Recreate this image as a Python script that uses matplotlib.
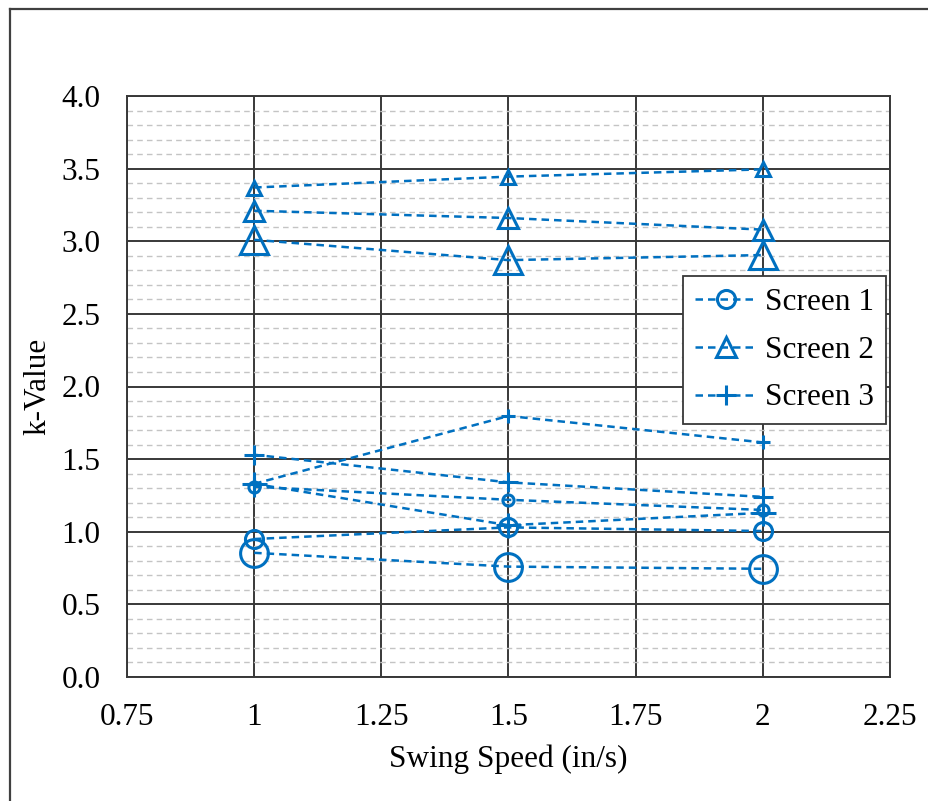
import matplotlib
matplotlib.use("Agg")
import matplotlib.pyplot as plt
from matplotlib.lines import Line2D
from matplotlib.ticker import MultipleLocator, FixedLocator
import numpy as np

plt.rcParams['font.family'] = ['Liberation Serif', 'DejaVu Serif']

# ---- data ----
swing_speed = [1.0, 1.5, 2.0]

screen1_small = [1.31, 1.22, 1.15]
screen1_medium = [0.95, 1.03, 1.005]
screen1_large = [0.855, 0.76, 0.745]

screen2_small = [3.37, 3.445, 3.495]
screen2_medium = [3.21, 3.16, 3.08]
screen2_large = [3.01, 2.87, 2.905]

screen3_small = [1.33, 1.797, 1.615]
screen3_medium = [1.53, 1.34, 1.24]
screen3_large = [1.33, 1.045, 1.13]

labels = ["Screen 1", "Screen 2", "Screen 3"]
x_ticks = [0.75, 1, 1.25, 1.5, 1.75, 2, 2.25]
x_tick_labels = ["0.75", "1", "1.25", "1.5", "1.75", "2", "2.25"]
y_ticks = [0.0, 0.5, 1.0, 1.5, 2.0, 2.5, 3.0, 3.5, 4.0]

BLUE = "#0070C0"
FS = 22.5

fig = plt.figure(figsize=(9.29, 8.01), dpi=100)
ax = fig.add_axes([127 / 929, 1 - 677 / 801, (890 - 127) / 929, (677 - 96) / 801])

dash = (0, (3.0, 2.0))
mew = 2.2

def draw(ys, marker, ms, label=None):
    return ax.plot(swing_speed, ys, linestyle=dash, color=BLUE, linewidth=1.8,
                   marker=marker, markersize=ms, markerfacecolor='none',
                   markeredgecolor=BLUE, markeredgewidth=mew, label=label, zorder=3)[0]

# Screen 2 triangles
draw(screen2_small, '^', 10)
h2 = draw(screen2_medium, '^', 14, labels[1])
draw(screen2_large, '^', 20)
# Screen 3 pluses
draw(screen3_small, '+', 10)
h3 = draw(screen3_medium, '+', 15, labels[2])
draw(screen3_large, '+', 18)
# Screen 1 circles
draw(screen1_small, 'o', 8)
h1 = draw(screen1_medium, 'o', 13, labels[0])
draw(screen1_large, 'o', 20)

ax.set_xlim(0.75, 2.25)
ax.set_ylim(0, 4.0)
ax.xaxis.set_major_locator(FixedLocator(x_ticks))
ax.set_xticklabels(x_tick_labels)
ax.yaxis.set_major_locator(FixedLocator(y_ticks))
ax.set_yticklabels([f"{v:.1f}" for v in y_ticks])
ax.yaxis.set_minor_locator(MultipleLocator(0.1))

ax.grid(which='major', color='#383838', linewidth=1.4, zorder=1)
ax.grid(which='minor', axis='y', color='#C4C4C4', linewidth=1.0,
        linestyle=(0, (4, 3)), zorder=0)
ax.set_axisbelow(True)
for s in ax.spines.values():
    s.set_color('#383838')
    s.set_linewidth(1.4)

ax.tick_params(axis='both', which='both', length=0, labelsize=FS, colors='black')
ax.tick_params(axis='x', pad=19)
ax.tick_params(axis='y', pad=19)

ax.set_xlabel("Swing Speed (in/s)", fontsize=FS, labelpad=9)
ax.set_ylabel("k-Value", fontsize=FS, labelpad=7)

leg = ax.legend(handles=[h1, h2, h3], loc='upper right',
                bbox_to_anchor=(0.995, 0.69), fontsize=FS, frameon=True,
                fancybox=False, edgecolor='#383838', framealpha=1,
                handlelength=2.0, handletextpad=0.25, borderpad=0.38,
                labelspacing=0.6, borderaxespad=0)
leg.get_frame().set_linewidth(1.3)

# outer frame (partially cropped)
fig.add_artist(Line2D([10.5 / 929, 10.5 / 929], [0, 1 - 8.5 / 801],
                      transform=fig.transFigure, color='#404040', linewidth=1.6))
fig.add_artist(Line2D([10.5 / 929, 1], [1 - 8.5 / 801, 1 - 8.5 / 801],
                      transform=fig.transFigure, color='#404040', linewidth=1.6))

fig.savefig("out.png", dpi=100, facecolor='white')
